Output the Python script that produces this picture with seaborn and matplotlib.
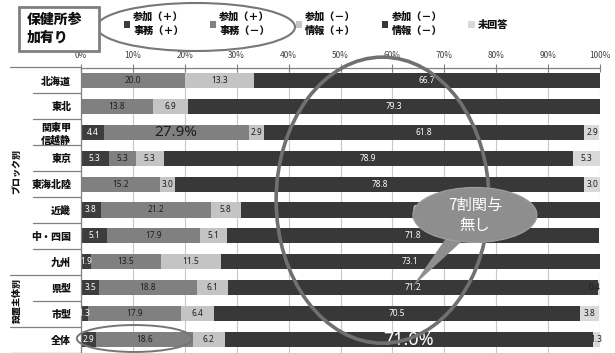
import numpy as np
import pandas as pd
import matplotlib
matplotlib.use('Agg')
import matplotlib.pyplot as plt
import matplotlib.transforms as mtransforms
from matplotlib.patches import Ellipse, Polygon, Patch, Rectangle
from matplotlib.font_manager import FontProperties
import seaborn as sns

# ---------------- data ----------------
categories = ['北海道', '東北', '関東甲\n信越静', '東京', '東海北陸', '近畿',
              '中・四国', '九州', '県型', '市型', '全体']
series_names = ['参加（＋）\n事務（＋）', '参加（＋）\n事務（－）', '参加（－）\n情報（＋）',
                '参加（－）\n情報（－）', '未回答']
s1 = [0, 0, 4.4, 5.3, 0, 3.8, 5.1, 1.9, 3.5, 1.3, 2.9]
s2 = [20.0, 13.8, 27.9, 5.3, 15.2, 21.2, 17.9, 13.5, 18.8, 17.9, 18.6]
s3 = [13.3, 6.9, 2.9, 5.3, 3.0, 5.8, 5.1, 11.5, 6.1, 6.4, 6.2]
s4 = [66.7, 79.3, 61.8, 78.9, 78.8, 69.2, 71.8, 73.1, 71.2, 70.5, 71.0]
s5 = [0, 0, 2.9, 5.3, 3.0, 0, 0, 0, 0.4, 3.8, 1.3]
tick_values = [0, 10, 20, 30, 40, 50, 60, 70, 80, 90, 100]
tick_labels = ['0%', '10%', '20%', '30%', '40%', '50%', '60%', '70%', '80%', '90%', '100%']
group_labels = ['ブロック別', '設置主体別']
title_text = '保健所参\n加有り'
bubble_text = '7割関与\n無し'
# highlighted labels: (series index, category index) -> text
highlight = {(1, 2): '27.9%', (3, 10): '71.0%'}

# ---------------- style ----------------
sns.set_theme(style='white')
plt.rcParams['font.family'] = ['Noto Sans CJK JP', 'DejaVu Sans']
HEAVY = 'black'

colors = ['#3d3d3d', '#808080', '#c4c4c4', '#383838', '#d9d9d9']
label_colors = ['white', '#1e1e1e', '#1e1e1e', 'white', '#1e1e1e']

series = np.array([s1, s2, s3, s4, s5], dtype=float)
cum = np.cumsum(series, axis=0)

W, H = 615, 353
fig = plt.figure(figsize=(W / 100, H / 100), dpi=100)
fig.patch.set_facecolor('white')
top_px, bot_px, left_px, right_px = 67.5, 352.5, 81, 600
ax = fig.add_axes([left_px / W, 1 - bot_px / H, (right_px - left_px) / W, (bot_px - top_px) / H])

for k in range(4, -1, -1):
    df = pd.DataFrame({'cat': categories, 'val': cum[k]})
    sns.barplot(data=df, x='val', y='cat', order=categories, orient='h',
                color=colors[k], saturation=1, width=0.58, errorbar=None,
                linewidth=0, ax=ax, zorder=2)

ax.set_xlim(0, 100)
ax.set_ylim(len(categories) - 0.5, -0.5)
ax.set_xlabel('')
ax.set_ylabel('')
ax.xaxis.tick_top()
ax.set_xticks(tick_values)
ax.set_xticklabels(tick_labels, fontsize=6, color='#404040')
ax.tick_params(axis='x', direction='inout', length=6, width=0.8, color='#808080', pad=2.5)
ax.tick_params(axis='y', length=0, pad=7)
for lab in ax.get_yticklabels():
    lab.set_fontsize(7.2)
    lab.set_fontweight(HEAVY)
    lab.set_color('#111111')
    lab.set_linespacing(1.25)
ax.grid(axis='x', color='#c8c8c8', lw=0.8, zorder=0)
ax.grid(axis='y', visible=False)
ax.set_axisbelow(True)
for side in ['right', 'bottom']:
    ax.spines[side].set_visible(False)
ax.spines['top'].set_color('#808080')
ax.spines['left'].set_color('#808080')
ax.spines['top'].set_linewidth(0.9)
ax.spines['left'].set_linewidth(0.9)

# value labels
num_family = ['Noto Sans', 'DejaVu Sans']
for k in range(5):
    for i in range(len(categories)):
        v = series[k][i]
        if v <= 0:
            continue
        xc = cum[k][i] - v / 2
        ha = 'center'
        if v < 1 and k == 4:
            xc, ha = cum[k][i], 'right'
        if (k, i) in highlight:
            size = 11 if k == 1 else 13
            ax.text(xc, i, highlight[(k, i)], ha='center', va='center',
                    fontsize=size, color=label_colors[k], zorder=4, family=num_family)
        else:
            ax.text(xc, i, f'{v:.1f}', ha=ha, va='center', fontsize=6,
                    color=label_colors[k], zorder=4, family=num_family)

# row separator lines on the left
trans = mtransforms.blended_transform_factory(ax.transAxes, ax.transData)
long_x = (10 - left_px) / (right_px - left_px)
short_x = (33 - left_px) / (right_px - left_px)
for b in np.arange(-0.5, len(categories), 1.0):
    x0 = long_x if b in (-0.5, 7.5, 9.5, 10.5) else short_x
    ax.plot([x0, 0], [b, b], transform=trans, color='#808080', lw=0.9, clip_on=False, zorder=3)

# group labels
gx = (17 - left_px) / (right_px - left_px)
ax.text(gx, 3.5, group_labels[0], transform=trans, rotation=90, ha='center', va='center',
        fontsize=6.5, fontweight=HEAVY, color='#111111')
ax.text(gx, 8.5, group_labels[1], transform=trans, rotation=90, ha='center', va='center',
        fontsize=6.5, fontweight=HEAVY, color='#111111')

# big ellipse around 50-70%
ax.add_patch(Ellipse((58.1, 4.62), 41.0, 11.04, fill=False, ec='#707070', lw=2.6,
                     clip_on=False, zorder=5))
# small ellipse around 全体
ax.add_patch(Ellipse((10.3, 9.96), 22.2, 1.04, fill=False, ec='#757575', lw=1.4,
                     clip_on=False, zorder=5))
# speech bubble
bub_c = '#8e8e8e'
ax.add_patch(Polygon([(70.5, 6.04), (73.4, 6.20), (63.8, 7.97)], closed=True,
                     fc=bub_c, ec='none', zorder=6, clip_on=False))
ax.add_patch(Ellipse((75.9, 5.19), 23.9, 2.12, fc=bub_c, ec='#a0a0a0', lw=0.8,
                     zorder=6, clip_on=False))
ax.text(75.9, 5.22, bubble_text, ha='center', va='center', fontsize=11, color='white',
        linespacing=1.25, zorder=7)

# legend
handles = [Patch(facecolor=c, edgecolor='none') for c in colors]
leg_font = FontProperties(family=['Noto Sans CJK JP', 'DejaVu Sans'], weight=HEAVY, size=7.3)
leg = fig.legend(handles, series_names, ncol=5, loc='upper left',
                 bbox_to_anchor=(124 / W, 1 - 12 / H), frameon=False,
                 prop=leg_font, handlelength=0.6, handleheight=0.6,
                 handletextpad=0.3, columnspacing=2.6, borderpad=0, borderaxespad=0)
for t in leg.get_texts():
    t.set_linespacing(1.5)
    t.set_color('#111111')
fig.patches.append(Ellipse((196 / W, 1 - 27 / H), 198 / W, 48 / H, transform=fig.transFigure,
                           fill=False, ec='#777777', lw=1.5))

# title box
fig.patches.append(Rectangle((19 / W, 1 - 51 / H), 80 / W, 44 / H, transform=fig.transFigure,
                             fill=True, fc='white', ec='#7f7f7f', lw=2.0))
fig.text(27 / W, 1 - 29 / H, title_text, ha='left', va='center', fontsize=10,
         fontweight=HEAVY, color='#111111', linespacing=1.35)

fig.savefig('out.png', dpi=100, facecolor='white')
